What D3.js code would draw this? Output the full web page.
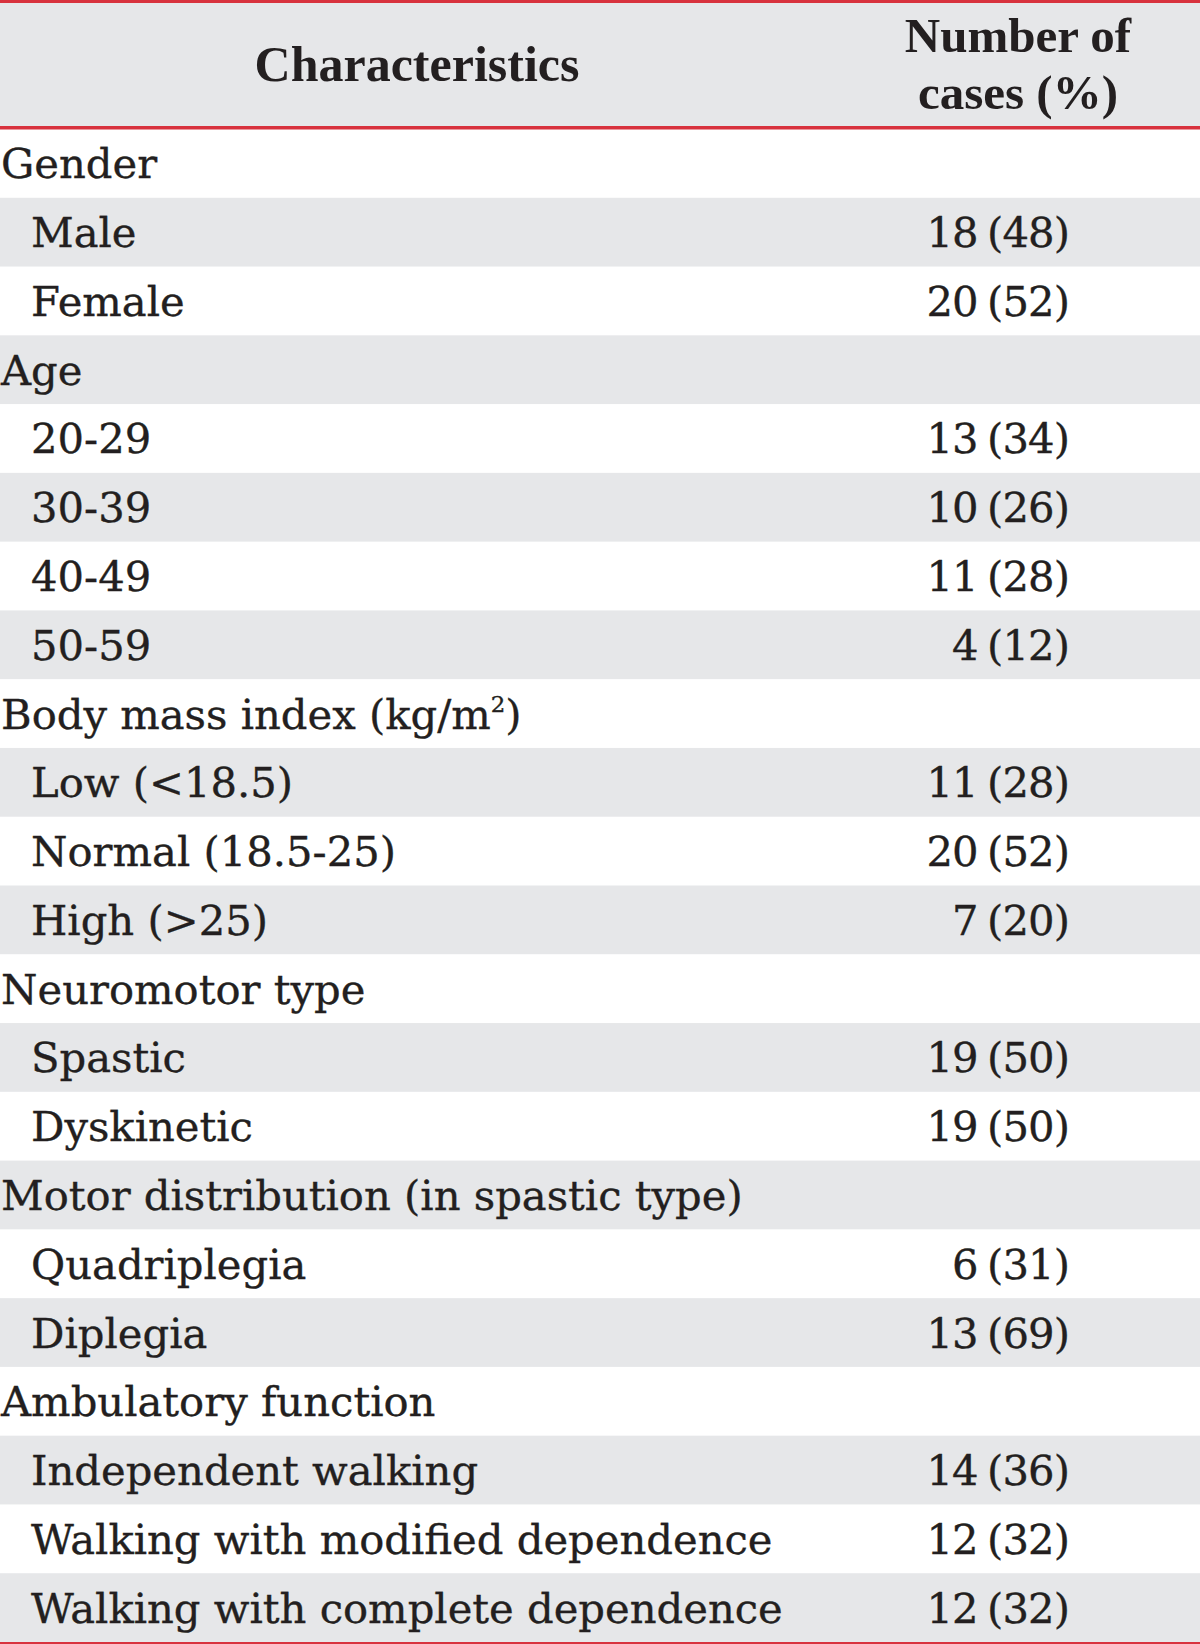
<!DOCTYPE html>
<html>
<head>
<meta charset="utf-8">
<script src="https://cdn.jsdelivr.net/npm/d3@7"></script>
<style>
  html, body { margin: 0; padding: 0; background: #ffffff; }
  svg { display: block; }
</style>
</head>
<body>
<svg id="chart" width="1200" height="1644"></svg>
<script>
// ---- Data ----
const headerCols = ["Characteristics", "Number of cases (%)"];
const rowLabels = [
  "Gender", "Male", "Female",
  "Age", "20-29", "30-39", "40-49", "50-59",
  "Body mass index (kg/m2)", "Low (<18.5)", "Normal (18.5-25)", "High (>25)",
  "Neuromotor type", "Spastic", "Dyskinetic",
  "Motor distribution (in spastic type)", "Quadriplegia", "Diplegia",
  "Ambulatory function", "Independent walking", "Walking with modified dependence", "Walking with complete dependence"
];
const rowIsGroup = [1,0,0, 1,0,0,0,0, 1,0,0,0, 1,0,0, 1,0,0, 1,0,0,0];
const caseCounts = [null,18,20, null,13,10,11,4, null,11,20,7, null,19,19, null,6,13, null,14,12,12];
const casePercents = [null,48,52, null,34,26,28,12, null,28,52,20, null,50,50, null,31,69, null,36,32,32];

// ---- Layout ----
const W = 1200, H = 1644;
const headerTop = 3, headerBottom = 128;
const bodyTop = 129, bodyBottom = 1642;
const gray = "#e6e7e9", red = "#d8323e", ink = "#231f20";
const bodyFont = "'DejaVu Serif', serif";
const headFont = "'Liberation Serif', 'DejaVu Serif', serif";

const svg = d3.select("#chart");

const y = d3.scaleBand()
  .domain(d3.range(rowLabels.length))
  .range([bodyTop, bodyBottom])
  .paddingInner(0).paddingOuter(0);

// header background
svg.append("rect").attr("x", 0).attr("y", headerTop).attr("width", W).attr("height", headerBottom - headerTop).attr("fill", gray);

// row stripes
svg.append("g").selectAll("rect")
  .data(d3.range(rowLabels.length))
  .join("rect")
  .attr("x", 0)
  .attr("y", i => y(i))
  .attr("width", W)
  .attr("height", y.bandwidth() + 0.5)
  .attr("fill", i => i % 2 === 1 ? gray : "#ffffff");

// rules
svg.append("rect").attr("x", 0).attr("y", 0).attr("width", W).attr("height", 3).attr("fill", red);
svg.append("rect").attr("x", 0).attr("y", headerBottom - 2).attr("width", W).attr("height", 3.5).attr("fill", red);
svg.append("rect").attr("x", 0).attr("y", bodyBottom).attr("width", W).attr("height", 2).attr("fill", red);

// header text
const head = svg.append("g").attr("font-family", headFont).attr("font-weight", "bold").attr("fill", ink);
head.append("text").attr("x", 417).attr("y", 81).attr("font-size", 50).attr("text-anchor", "middle").text(headerCols[0]);
const nLines = ["Number of", "cases (%)"];
head.selectAll("text.h2").data(nLines).join("text")
  .attr("class", "h2")
  .attr("font-size", 49)
  .attr("x", 1018)
  .attr("y", (d, i) => 52 + i * 57)
  .attr("text-anchor", "middle")
  .text(d => d);

// body text
const fs = 41.7;
const body = svg.append("g").attr("font-family", bodyFont).attr("font-size", fs)
  .attr("fill", ink).attr("stroke", ink).attr("stroke-width", 0.35);
rowLabels.forEach((lab, i) => {
  const ty = y(i) + y.bandwidth() / 2 + 15;
  const t = body.append("text").attr("x", rowIsGroup[i] ? 1 : 31).attr("y", ty);
  if (lab.endsWith("m2)")) {
    t.append("tspan").text(lab.slice(0, -2));
    t.append("tspan").attr("font-size", fs * 0.55).attr("dy", -17).text("2");
    t.append("tspan").attr("dy", 17).text(")");
  } else {
    t.text(lab);
  }
  if (caseCounts[i] !== null) {
    body.append("text").attr("x", 1069).attr("y", ty).attr("text-anchor", "end")
      .attr("word-spacing", -3).attr("letter-spacing", -0.9)
      .text(caseCounts[i] + " (" + casePercents[i] + ")");
  }
});
</script>
</body>
</html>
